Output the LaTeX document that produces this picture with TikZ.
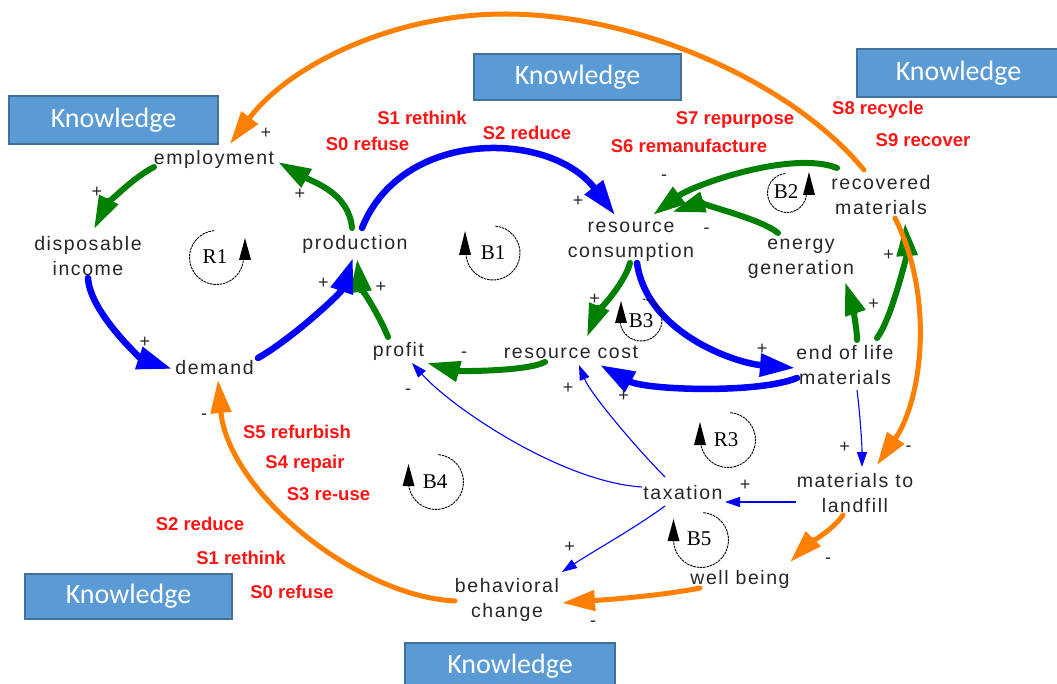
\documentclass[tikz,border=0pt]{standalone}
\usepackage{fontspec}
\setmainfont{Liberation Sans}
\newfontfamily\varfont[LetterSpace=8]{Liberation Sans}
\newfontfamily\stratfont{Liberation Sans}
\newfontfamily\loopfont{Liberation Serif}
\newfontfamily\knowfont{Carlito}
\usetikzlibrary{arrows.meta}

\definecolor{flowgreen}{RGB}{0,128,0}
\definecolor{flowblue}{RGB}{0,0,255}
\definecolor{floworange}{RGB}{255,128,0}
\definecolor{stratred}{RGB}{255,20,20}
\definecolor{knowfill}{RGB}{91,155,213}
\definecolor{knowedge}{RGB}{65,113,156}

\tikzset{
  var/.style={font=\varfont\fontsize{19.5}{24.5}\selectfont, align=center, inner sep=0pt, text=black!85},
  strat/.style={font=\stratfont\bfseries\fontsize{18.5}{20}\selectfont, text=stratred, inner sep=0pt},
  know/.style={fill=knowfill, draw=knowedge, line width=1.2pt, inner sep=0pt,
    font=\knowfont\fontsize{28}{30}\selectfont, text=white},
  sign/.style={font=\fontsize{18}{18}\selectfont, inner sep=0pt, text=black!85},
  loopname/.style={font=\loopfont\fontsize{21}{21}\selectfont, inner sep=0pt},
  loopline/.style={line width=0.9pt, dash pattern=on 2.5pt off 0.8pt},
  grn/.style={draw=flowgreen, line width=6pt, line cap=round, -{Triangle[length=33pt,width=20pt]}},
  blu/.style={draw=flowblue, line width=6.5pt, line cap=round, -{Triangle[length=35pt,width=22pt]}},
  org/.style={draw=floworange, line width=5pt, line cap=round, -{Triangle[length=33pt,width=20pt]}},
  thinblu/.style={draw=flowblue, line width=1.1pt, -{Triangle[length=15pt,width=10pt]}}
}

\begin{document}
\begin{tikzpicture}[x=1pt, y=-1pt]
\useasboundingbox (0,0) rectangle (1057,684);

% knowledge boxes
\node[know, minimum width=209pt, minimum height=48pt] (k1) at (113.5,120) {Knowledge};
\node[know, minimum width=207pt, minimum height=46pt] (k2) at (577.5,77) {Knowledge};
\node[know, minimum width=203pt, minimum height=48pt] (k3) at (958.5,73) {Knowledge};
\node[know, minimum width=207pt, minimum height=45pt] (k4) at (128.5,596.5) {Knowledge};
\node[know, minimum width=210pt, minimum height=46pt] (k5) at (510,666) {Knowledge};

% variables
\node[var] (employment) at (214,159) {employment};
\node[var] (income) at (88,256) {disposable\\income};
\node[var] (production) at (355,244) {production};
\node[var] (demand) at (214.5,368) {demand};
\node[var] (profit) at (398.5,351) {profit};
\node[var] (rcost) at (571,352) {resource cost};
\node[var] (rcons) at (631,242) {resource\\consumption};
\node[var] (recovered) at (881,195) {recovered\\materials};
\node[var] (energy) at (801,259) {energy\\generation};
\node[var] (eol) at (845,365) {end of life\\materials};
\node[var] (landfill) at (855,493) {materials to\\landfill};
\node[var] (taxation) at (683,493) {taxation};
\node[var] (wellbeing) at (740,579) {well being};
\node[var] (behav) at (507,600) {behavioral\\change};

% strategy labels
\node[strat] (t1) at (422,118) {S1 rethink};
\node[strat] (t2) at (367.5,144) {S0 refuse};
\node[strat] (t3) at (527,133) {S2 reduce};
\node[strat] (t4) at (735,120) {S7 repurpose};
\node[strat] (t5) at (689,146) {S6 remanufacture};
\node[strat] (t6) at (878,110) {S8 recycle};
\node[strat] (t7) at (923,140) {S9 recover};
\node[strat] (t8) at (297,432) {S5 refurbish};
\node[strat] (t9) at (305,464) {S4 repair};
\node[strat] (t10) at (328.5,494) {S3 re-use};
\node[strat] (t11) at (200,524) {S2 reduce};
\node[strat] (t12) at (241,558) {S1 rethink};
\node[strat] (t13) at (292,592) {S0 refuse};

% green links
\draw[grn] ([shift={(-60,8)}]employment.center) .. controls +(-25,13) and +(10,-20) .. ([shift={(6,-27)}]income.center);
\draw[grn] ([shift={(-3,-16)}]production.center) .. controls +(-3,-35) and +(35,20) .. ([shift={(64,3)}]employment.center);
\draw[grn] ([shift={(-10.5,-14)}]profit.center) .. controls +(-8,-20) and +(3,25) .. ([shift={(2,15)}]production.center);
\draw[grn] ([shift={(-26,10)}]rcost.center) .. controls +(-20,10) and +(30,8) .. ([shift={(28.5,12)}]profit.center);
\draw[grn] ([shift={(-1,21)}]rcons.center) .. controls +(-5,20) and +(8,-20) .. ([shift={(16,-15)}]rcost.center);
\draw[grn] ([shift={(-44,-27)}]recovered.center) .. controls +(-45,-18) and +(40,-30) .. ([shift={(22,-27)}]rcons.center);
\draw[grn] ([shift={(-23,-26)}]energy.center) .. controls +(-18,-15) and +(25,-8) .. ([shift={(41,-30)}]rcons.center);
\draw[grn] ([shift={(12,-25)}]eol.center) .. controls +(0,-15) and +(5,15) .. ([shift={(44,23)}]energy.center);
\draw[grn] ([shift={(32,-27)}]eol.center) .. controls +(15,-20) and +(2,30) .. ([shift={(24,28)}]recovered.center);

% blue links
\draw[blu] ([shift={(7,-16)}]production.center) .. controls +(40,-100) and +(-65,-85) .. ([shift={(-16,-27)}]rcons.center);
\draw[blu] ([shift={(0,22)}]income.center) .. controls +(2,35) and +(-30,-10) .. ([shift={(-42.5,1)}]demand.center);
\draw[blu] ([shift={(43.5,-10)}]demand.center) .. controls +(35,-20) and +(-12,35) .. ([shift={(-2,14)}]production.center);
\draw[blu] ([shift={(6,21)}]rcons.center) .. controls +(10,70) and +(-60,-5) .. ([shift={(-50,3)}]eol.center);
\draw[blu] ([shift={(-48,13)}]eol.center) .. controls +(-40,16) and +(45,25) .. ([shift={(29,13)}]rcost.center);

% thin blue links
\draw[thinblu] ([shift={(-41,-6)}]taxation.center) .. controls +(-80,-5) and +(40,45) .. ([shift={(13.5,12)}]profit.center);
\draw[thinblu] ([shift={(-18,-16)}]taxation.center) .. controls +(-25,-25) and +(12,30) .. ([shift={(8,13)}]rcost.center);
\draw[thinblu] ([shift={(12,25)}]eol.center) .. controls +(3,25) and +(0,-25) .. ([shift={(7,-26)}]landfill.center);
\draw[thinblu] ([shift={(-59,9)}]landfill.center) -- ([shift={(42,9)}]taxation.center);
\draw[thinblu] ([shift={(-18,13)}]taxation.center) .. controls +(-30,22) and +(30,-20) .. ([shift={(55,-28)}]behav.center);

% orange links
\draw[org] ([shift={(-17,-25)}]recovered.center) .. controls (790,80) and (635,14) .. (505,14)
  .. controls (395,14) and (290,64) .. ([shift={(16,-15)}]employment.center);
\draw[org] ([shift={(14,23)}]recovered.center) .. controls +(40,80) and +(45,-65) .. ([shift={(22,-28)}]landfill.center);
\draw[org] ([shift={(-12,22)}]landfill.center) .. controls +(-10,15) and +(15,-15) .. ([shift={(50,-17)}]wellbeing.center);
\draw[org] ([shift={(-40,9)}]wellbeing.center) .. controls +(-40,8) and +(40,-3) .. ([shift={(55,3)}]behav.center);
\draw[org] ([shift={(-52,1)}]behav.center) .. controls +(-100,-5) and +(10,110) .. ([shift={(3.5,12)}]demand.center);

% polarity signs
\node[sign] (p1) at (266,133) {+};
\node[sign] (p2) at (97,192) {+};
\node[sign] (p3) at (300,194) {+};
\node[sign] (p4) at (145,342) {+};
\node[sign] (p5) at (323.5,283) {+};
\node[sign] (p6) at (381,287) {+};
\node[sign] (p7) at (578,201.5) {+};
\node[sign] (p8) at (664,178) {-};
\node[sign] (p9) at (706.5,231) {-};
\node[sign] (p10) at (594.5,299) {+};
\node[sign] (p11) at (464,354.5) {-};
\node[sign] (p12) at (408,392) {-};
\node[sign] (p13) at (568,388) {+};
\node[sign] (p14) at (623.5,396) {+};
\node[sign] (p15) at (762,349) {+};
\node[sign] (p16) at (888.5,255) {+};
\node[sign] (p17) at (873.5,304) {+};
\node[sign] (p18) at (844.5,447) {+};
\node[sign] (p19) at (908.5,449) {-};
\node[sign] (p20) at (745,485.5) {+};
\node[sign] (p21) at (828,560.5) {-};
\node[sign] (p22) at (569.5,547.5) {+};
\node[sign] (p23) at (593,624) {-};
\node[sign] (p24) at (204,416.5) {-};

% loop markers
\node[loopname] (R1) at (215,257) {R1};
\draw[loopline] (216.5,257.5) ++(-95:27) arc[start angle=-95, end angle=-360, radius=27];
\fill (239,260) -- (251,260) -- (245,238) -- cycle;

\node[loopname] (B1) at (493,253) {B1};
\draw[loopline] (493,253) ++(-85:27) arc[start angle=-85, end angle=180, radius=27];
\fill (459,255) -- (471,255) -- (465,231) -- cycle;

\node[loopname] (B2) at (786,192) {B2};
\draw[loopline] (787,193) ++(-95:19.5) arc[start angle=-95, end angle=-360, radius=19.5];
\fill (803,195) -- (815,195) -- (809,172) -- cycle;

\node[loopname] (B3) at (641,320.5) {B3};
\draw[loopline] (641,320) ++(-85:21) arc[start angle=-85, end angle=180, radius=21];
\fill (615,323) -- (627,323) -- (621,301) -- cycle;

\node[loopname] (R3) at (726,440) {R3};
\draw[loopline] (728,440) ++(-85:27.5) arc[start angle=-85, end angle=180, radius=27.5];
\fill (694,445) -- (706,445) -- (700,422) -- cycle;

\node[loopname] (B4) at (435,482) {B4};
\draw[loopline] (436,482) ++(-85:27.5) arc[start angle=-85, end angle=180, radius=27.5];
\fill (402.5,486) -- (414.5,486) -- (408.5,464) -- cycle;

\node[loopname] (B5) at (699,539) {B5};
\draw[loopline] (701,540) ++(-85:27.5) arc[start angle=-85, end angle=180, radius=27.5];
\fill (667.5,541) -- (679.5,541) -- (673.5,519) -- cycle;
\end{tikzpicture}
\end{document}
